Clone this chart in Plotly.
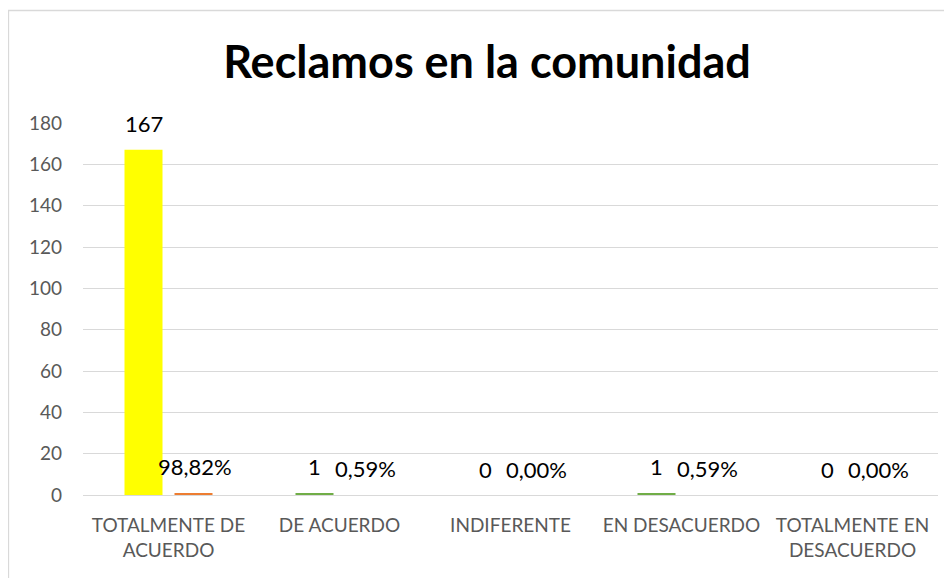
import plotly.graph_objects as go

categories = ["TOTALMENTE DE<br>ACUERDO", "DE ACUERDO", "INDIFERENTE", "EN DESACUERDO", "TOTALMENTE EN<br>DESACUERDO"]
counts = [167, 1, 0, 1, 0]
percents = [0.9882, 0.0059, 0.0, 0.0059, 0.0]
count_labels = ["167", "1", "0", "1", "0"]
percent_labels = ["98,82%", "0,59%", "0,00%", "0,59%", "0,00%"]
count_colors = ["#FFFF00", "#70AD47", "#70AD47", "#70AD47", "#70AD47"]
percent_color = "#ED7D31"

# the page body adds an 8px offset; compensate so the picture lines up
OFF = 8
W, H = 952 - OFF, 578 - OFF
ml = 83 - OFF
mt = 123 - OFF
mr = W - (938 - OFF)
mb = H - (495 - OFF)

FONT = "Lato, Noto Sans, sans-serif"

# bars far thinner than a pixel are not drawn in the original
percent_colors = [percent_color if p >= 0.5 else "rgba(0,0,0,0)" for p in percents]

fig = go.Figure()
fig.add_trace(go.Bar(x=categories, y=counts, marker=dict(color=count_colors, line=dict(width=0)),
                     name="Cantidad", hoverinfo="x+y"))
fig.add_trace(go.Bar(x=categories, y=percents, marker=dict(color=percent_colors, line=dict(width=0)),
                     name="Porcentaje", hoverinfo="x+y"))

slot = 25
for c, v, t in zip(categories, counts, count_labels):
    fig.add_annotation(x=c, y=v, xref="x", yref="y", text=t, showarrow=False,
                       xshift=-slot, yshift=26, yanchor="middle",
                       font=dict(family=FONT, size=22, color="#000000"))
for c, v, t in zip(categories, percents, percent_labels):
    fig.add_annotation(x=c, y=v, xref="x", yref="y", text=t, showarrow=False,
                       xshift=slot + 1, yshift=26, yanchor="middle",
                       font=dict(family=FONT, size=22, color="#000000"))

pw = W - ml - mr
ph = H - mt - mb
# chart area border (top edge visible; left edge falls at the page margin)
fig.add_shape(type="rect", xref="paper", yref="paper",
              x0=(0.5 - ml) / pw, x1=(W + 20 - ml) / pw,
              y0=(H - mb - (H + 20)) / ph, y1=(H - mb - (10.5 - OFF)) / ph,
              line=dict(color="#D9D9D9", width=1.3), fillcolor="rgba(0,0,0,0)", layer="below")

fig.update_layout(
    width=W, height=H,
    margin=dict(l=ml, r=mr, t=mt, b=mb, autoexpand=False),
    paper_bgcolor="white", plot_bgcolor="white",
    barmode="group", bargap=1 - 100 / 171, bargroupgap=0.24,
    showlegend=False,
    title=dict(text="<b>Reclamos en la comunidad</b>", x=(487 - OFF) / W, xanchor="center",
               y=1 - (62 - OFF) / H, yanchor="middle", xref="container", yref="container",
               font=dict(family=FONT, size=45, color="#000000")),
    font=dict(family=FONT),
    xaxis=dict(showgrid=False, showline=False, ticks="", zeroline=False,
               ticklabelstandoff=17,
               tickfont=dict(size=19, color="#595959"), tickangle=0),
    yaxis=dict(range=[0, 180], dtick=20, showgrid=True, gridcolor="#D9D9D9", gridwidth=1.3,
               zeroline=True, zerolinecolor="#D9D9D9", zerolinewidth=1.3, showline=False, ticks="",
               ticklabelstandoff=20,
               tickfont=dict(size=19, color="#595959")),
)

fig.write_html("out.html")
